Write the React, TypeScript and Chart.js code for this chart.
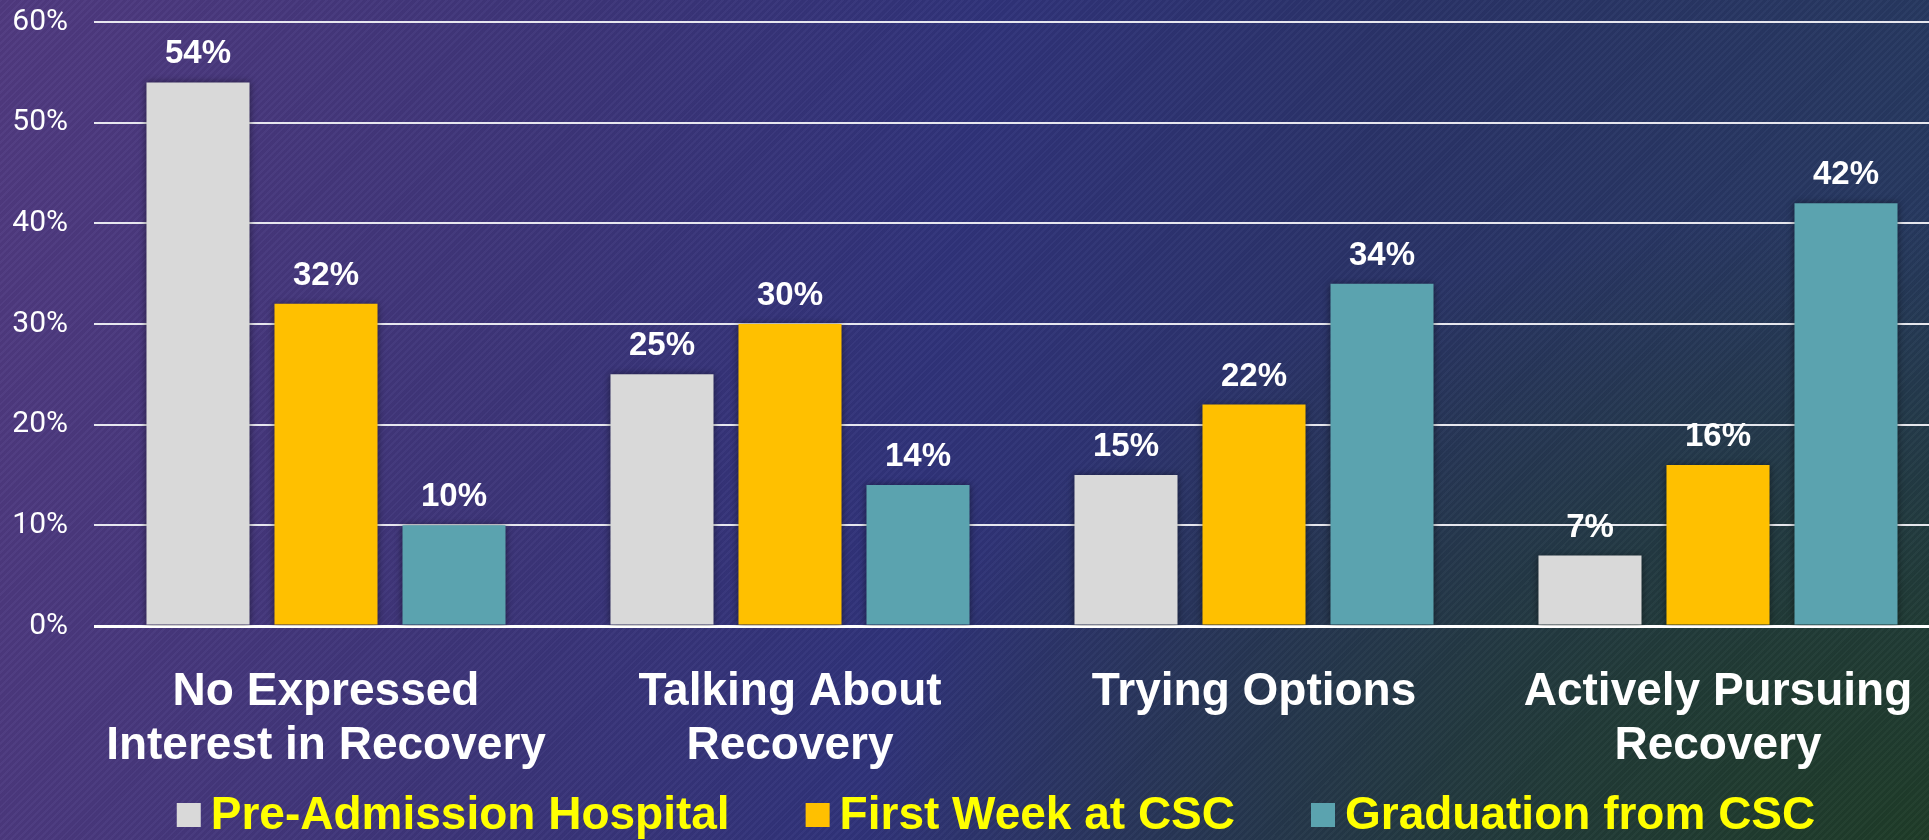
import React, { useEffect, useRef } from "react";
import { Chart, registerables } from "chart.js";

Chart.register(...registerables);

// ---- data ----
const categories: string[][] = [
  ["No Expressed", "Interest in Recovery"],
  ["Talking About", "Recovery"],
  ["Trying Options"],
  ["Actively Pursuing", "Recovery"],
];
const seriesNames: string[] = ["Pre-Admission Hospital", "First Week at CSC", "Graduation from CSC"];
const preAdmissionHospital: number[] = [54, 25, 15, 7];
const firstWeekAtCSC: number[] = [32, 30, 22, 16];
const graduationFromCSC: number[] = [10, 14, 34, 42];
const seriesColors: string[] = ["#D9D9D9", "#FFC000", "#5BA3AF"];
const yTickValues: number[] = [0, 10, 20, 30, 40, 50, 60];

const LABEL_FONT = "'Liberation Sans', Arial, sans-serif";

const shadowPlugin = {
  id: "barShadow",
  beforeDatasetsDraw(chart: any) {
    const ctx = chart.ctx;
    ctx.save();
    ctx.shadowColor = "rgba(0,0,0,0.45)";
    ctx.shadowBlur = 7;
    ctx.shadowOffsetX = 0;
    ctx.shadowOffsetY = 0;
  },
  afterDatasetsDraw(chart: any) {
    chart.ctx.restore();
  },
};

const valueLabelPlugin = {
  id: "valueLabels",
  afterDatasetsDraw(chart: any) {
    const ctx = chart.ctx;
    ctx.save();
    ctx.font = `bold 33px ${LABEL_FONT}`;
    ctx.fillStyle = "#FFFFFF";
    ctx.textAlign = "center";
    ctx.textBaseline = "alphabetic";
    chart.data.datasets.forEach((ds: any, i: number) => {
      const meta = chart.getDatasetMeta(i);
      meta.data.forEach((bar: any, j: number) => {
        ctx.fillText(`${ds.data[j]}%`, bar.x, bar.y - 19);
      });
    });
    ctx.restore();
  },
};

const legendPlugin = {
  id: "bottomLegend",
  afterDraw(chart: any) {
    const ctx = chart.ctx;
    ctx.save();
    ctx.font = `bold 46px ${LABEL_FONT}`;
    const box = 24;
    const gapBoxText = 10;
    const gapItems = 76;
    const items = chart.data.datasets.map((ds: any) => ({
      label: ds.label as string,
      color: ds.backgroundColor as string,
      w: ctx.measureText(ds.label).width,
    }));
    const total =
      items.reduce((s: number, it: any) => s + box + gapBoxText + it.w, 0) + gapItems * (items.length - 1);
    let x = 996 - total / 2;
    const cy = 815;
    for (const it of items) {
      ctx.fillStyle = it.color;
      ctx.fillRect(x, cy - box / 2, box, box);
      x += box + gapBoxText;
      ctx.fillStyle = "#FFFF00";
      ctx.textAlign = "left";
      ctx.textBaseline = "alphabetic";
      ctx.fillText(it.label, x, 829);
      x += it.w + gapItems;
    }
    ctx.restore();
  },
};

function BarChart() {
  const canvasRef = useRef<HTMLCanvasElement | null>(null);

  useEffect(() => {
    if (!canvasRef.current) return;
    const seriesValues = [preAdmissionHospital, firstWeekAtCSC, graduationFromCSC];
    const chart = new Chart(canvasRef.current, {
      type: "bar",
      data: {
        labels: categories,
        datasets: seriesNames.map((name, i) => ({
          label: name,
          data: seriesValues[i],
          backgroundColor: seriesColors[i],
          borderWidth: 0,
          categoryPercentage: 0.8276,
          barPercentage: 0.805,
        })),
      },
      options: {
        animation: false,
        responsive: false,
        maintainAspectRatio: false,
        layout: { padding: { top: 22, right: 10, bottom: 0, left: 0 } },
        plugins: {
          legend: { display: false },
          tooltip: { enabled: false },
        },
        scales: {
          x: {
            grid: { display: false },
            border: { display: false },
            ticks: {
              color: "#FFFFFF",
              font: { family: LABEL_FONT, size: 46, weight: "bold", lineHeight: 54 / 46 },
              padding: 31,
              maxRotation: 0,
              autoSkip: false,
            },
            afterFit: (scale: any) => {
              scale.height = 214;
              scale.paddingLeft = 0;
              scale.paddingRight = 0;
            },
          },
          y: {
            min: yTickValues[0],
            max: yTickValues[yTickValues.length - 1],
            border: { display: false },
            grid: {
              drawTicks: false,
              color: (c: any) => (c.tick && c.tick.value === 0 ? "#FFFFFF" : "rgba(240,240,245,0.95)"),
              lineWidth: (c: any) => (c.tick && c.tick.value === 0 ? 3 : 2),
            },
            ticks: {
              stepSize: yTickValues[1] - yTickValues[0],
              color: "#FFFFFF",
              padding: 26,
              font: { family: "Roboto, 'Liberation Sans', sans-serif", size: 30 },
              callback: (v: any) => `${v}%`,
            },
            afterFit: (scale: any) => {
              scale.width = 94;
              scale.paddingTop = 0;
              scale.paddingBottom = 0;
            },
          },
        },
      },
      plugins: [shadowPlugin, valueLabelPlugin, legendPlugin],
    });
    return () => chart.destroy();
  }, []);

  return <canvas ref={canvasRef} width={1960} height={840} style={{ display: "block" }} />;
}

export default function App() {
  return (
    <div
      style={{
        position: "fixed",
        left: 0,
        top: 0,
        width: 1929,
        height: 840,
        overflow: "hidden",
        background:
          "repeating-linear-gradient(135deg, rgba(255,255,255,0.025) 0px, rgba(255,255,255,0.025) 2px, rgba(0,0,0,0.03) 2px, rgba(0,0,0,0.03) 5px)," +
          "radial-gradient(ellipse 55% 75% at 100% 100%, rgba(31,60,40,1) 0%, rgba(31,60,40,0.75) 35%, rgba(31,60,40,0) 100%)," +
          "linear-gradient(100deg, #503A80 0%, #3D3579 28%, #30337A 48%, #2A3368 68%, #263A5E 100%)",
      }}
    >
      <BarChart />
    </div>
  );
}
